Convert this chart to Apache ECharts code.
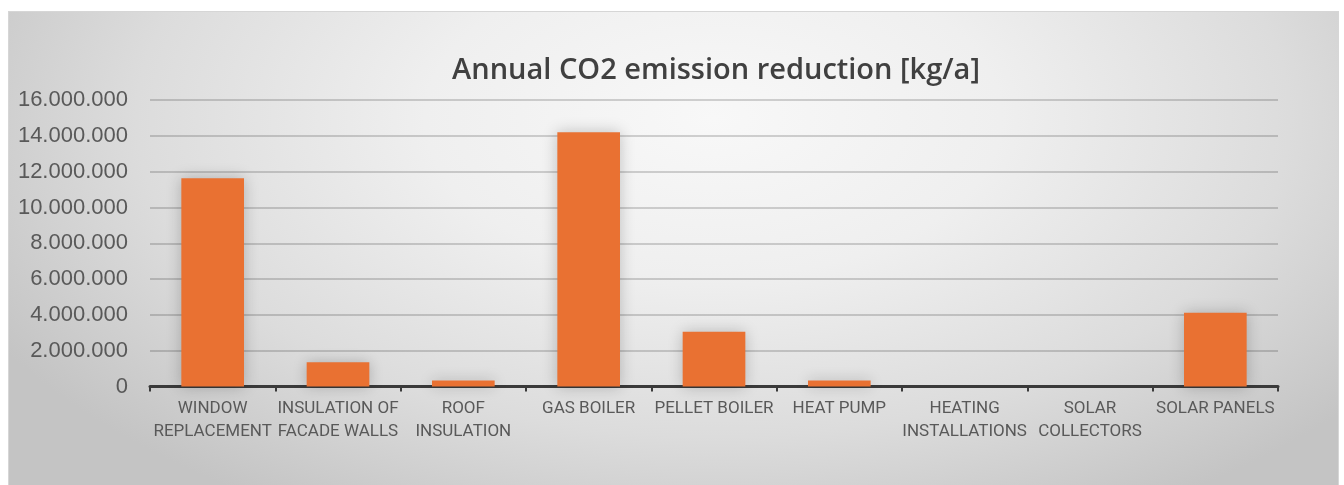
<!DOCTYPE html>
<html>
<head>
<meta charset="utf-8">
<title>Annual CO2 emission reduction</title>
<script src="https://cdn.jsdelivr.net/npm/echarts@6/dist/echarts.min.js"></script>
<style>
  html, body { margin: 0; padding: 0; background: #ffffff; overflow: hidden; }
  #frame {
    position: absolute; left: 8px; top: 11px; width: 1329px; height: 480px;
    border: 1px solid #d6d6d6; border-bottom: none;
    background: radial-gradient(ellipse 62% 95% at 53% 22%, #f8f8f8 0%, #efefef 35%, #dcdcdc 70%, #c4c4c4 100%);
  }
  #chart { position: absolute; left: 0; top: 0; width: 1344px; height: 485px; }
</style>
</head>
<body>
<div id="frame"></div>
<div id="chart"></div>
<script>
// Measures and their annual CO2 savings in kg per year
const categories = [
  'WINDOW\nREPLACEMENT',
  'INSULATION OF\nFACADE WALLS',
  'ROOF\nINSULATION',
  'GAS BOILER',
  'PELLET BOILER',
  'HEAT PUMP',
  'HEATING\nINSTALLATIONS',
  'SOLAR\nCOLLECTORS',
  'SOLAR PANELS'
];
const reduction = [11630000, 1350000, 330000, 14200000, 3060000, 340000, 0, 0, 4120000];

// Value axis range
const yMin = 0;
const yMax = 16000000;
const yStep = 2000000;

// Format numbers with "." as thousands separator
function dotThousands(v) {
  return String(Math.round(v)).replace(/\B(?=(\d{3})+(?!\d))/g, '.');
}

const chart = echarts.init(document.getElementById('chart'), null, { renderer: 'canvas' });

chart.setOption({
  backgroundColor: 'transparent',
  animation: false,
  title: {
    text: 'Annual CO2 emission reduction [kg/a]',
    left: 711,
    top: 51,
    textAlign: 'center',
    textStyle: {
      fontFamily: 'Open Sans, Liberation Sans, sans-serif',
      fontSize: 29,
      fontWeight: 600,
      color: '#404040'
    }
  },
  grid: { left: 150, right: 66, top: 100, bottom: 98.5, containLabel: false },
  xAxis: {
    type: 'category',
    data: categories,
    boundaryGap: true,
    axisLine: { show: true, lineStyle: { color: '#3a3a3a', width: 3 } },
    axisTick: { show: true, alignWithLabel: false, length: 5, lineStyle: { color: '#3a3a3a', width: 2 } },
    axisLabel: {
      interval: 0,
      margin: 11,
      color: '#595959',
      fontFamily: 'Roboto, Liberation Sans, sans-serif',
      fontSize: 17,
      lineHeight: 23
    },
    splitLine: { show: false }
  },
  yAxis: {
    type: 'value',
    min: yMin,
    max: yMax,
    interval: yStep,
    axisLine: { show: false },
    axisTick: { show: false },
    axisLabel: {
      margin: 22,
      color: '#595959',
      fontFamily: 'Liberation Sans, Arial, sans-serif',
      fontSize: 22,
      formatter: dotThousands
    },
    splitLine: { show: true, lineStyle: { color: 'rgba(0,0,0,0.22)', width: 1.5 } }
  },
  series: [{
    type: 'bar',
    data: reduction,
    barCategoryGap: '50%',
    itemStyle: {
      color: '#E97132',
      shadowColor: 'rgba(0,0,0,0.22)',
      shadowBlur: 14
    }
  }]
});
</script>
</body>
</html>
